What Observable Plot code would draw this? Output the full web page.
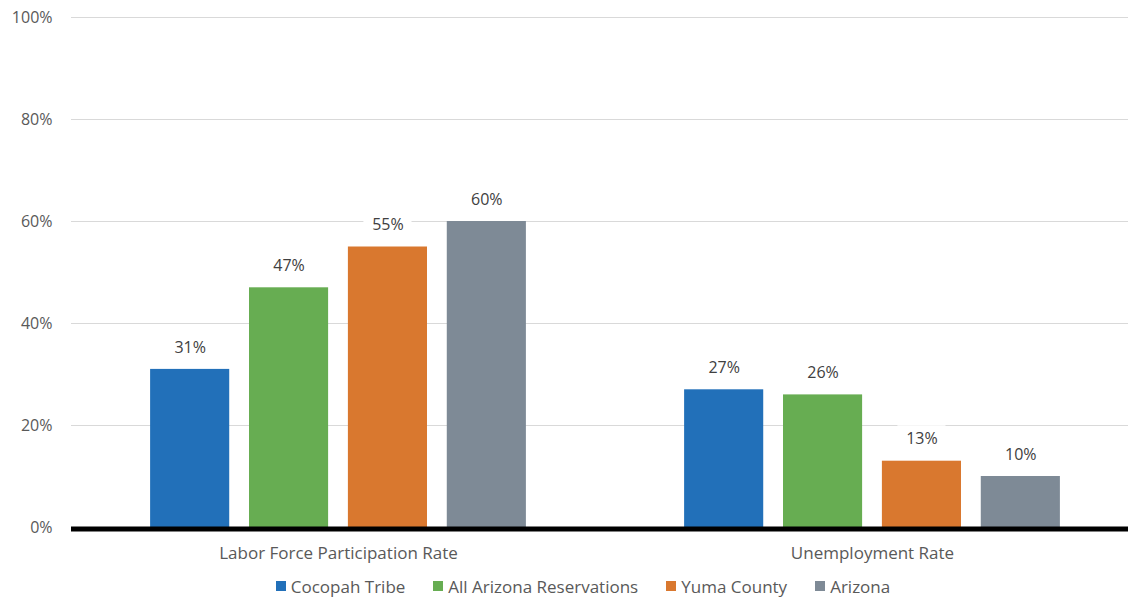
<!DOCTYPE html>
<html>
<head>
<meta charset="utf-8">
<script src="https://cdn.jsdelivr.net/npm/d3@7"></script>
<script src="https://cdn.jsdelivr.net/npm/@observablehq/plot@0.6"></script>
<style>
  html, body { margin: 0; padding: 0; background: #fff; }
  body { width: 1128px; height: 602px; overflow: hidden; font-family: "Open Sans", sans-serif; }
  #legend {
    display: flex; justify-content: center; align-items: center;
    height: 32px; margin-left: 38px; padding-top: 4px;
    font-size: 17px; color: #595959;
  }
  #legend .item { display: flex; align-items: center; margin: 0 14px; }
  #legend .swatch { width: 10px; height: 10px; margin-right: 5px; }
</style>
</head>
<body>
<div id="chart"></div>
<div id="legend"></div>
<script>
// Labour market indicators by area
const groups = ["Labor Force Participation Rate", "Unemployment Rate"];
const series = ["Cocopah Tribe", "All Arizona Reservations", "Yuma County", "Arizona"];
const colors = ["#2270b9", "#67ad52", "#d9782f", "#7e8a96"];
const laborForce = [31, 47, 55, 60];
const unemployment = [27, 26, 13, 10];
const yTicks = [0, 20, 40, 60, 80, 100];

const rows = [
  ...series.map((s, i) => ({group: groups[0], series: s, value: laborForce[i]})),
  ...series.map((s, i) => ({group: groups[1], series: s, value: unemployment[i]}))
];

const chart = Plot.plot({
  width: 1128,
  height: 566,
  marginLeft: 71,
  marginRight: -11,
  marginTop: 17,
  marginBottom: 39,
  style: {fontFamily: "Open Sans, sans-serif", fontSize: "16px", color: "#595959", background: "#fff"},
  fx: {domain: groups, padding: 0, round: false, label: null, tickSize: 0, tickPadding: 19, axis: "bottom"},
  x: {domain: series, paddingInner: 0.2, paddingOuter: 0.8, round: false, axis: null},
  y: {domain: [0, 100], ticks: yTicks, tickFormat: d => d + "%", tickSize: 0, tickPadding: 19, label: null},
  color: {domain: series, range: colors},
  marks: [
    Plot.ruleY(yTicks.filter(d => d > 0), {stroke: "#d9d9d9", strokeWidth: 1.2}),
    Plot.barY(rows, {fx: "group", x: "series", y: "value", fill: "series"}),
    // white boxes behind the value labels
    Plot.tickY(rows, {fx: "group", x: "series", y: "value", dy: -22, stroke: "#fff", strokeWidth: 28, insetLeft: 15.5, insetRight: 15.5}),
    Plot.text(rows, {fx: "group", x: "series", y: "value", dy: -22, text: d => d.value + "%", fill: "#404040", fontSize: 16, lineAnchor: "middle"}),
    Plot.ruleY([0], {stroke: "#000", strokeWidth: 5, dy: 1.5})
  ]
});
// category labels a little larger than the tick labels
d3.select(chart).selectAll("[aria-label='fx-axis tick label'] text, g[aria-label='fx-axis'] text").attr("font-size", 17);
document.getElementById("chart").appendChild(chart);

const legend = d3.select("#legend");
series.forEach((s, i) => {
  const item = legend.append("div").attr("class", "item");
  item.append("div").attr("class", "swatch").style("background", colors[i]);
  item.append("span").text(s);
});
</script>
</body>
</html>
